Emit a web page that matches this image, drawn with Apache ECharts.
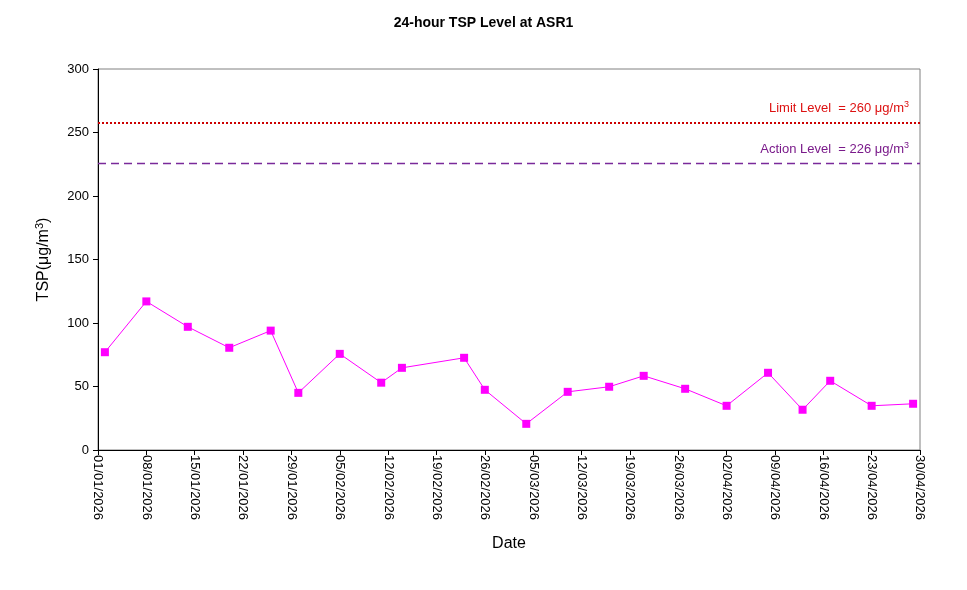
<!DOCTYPE html>
<html>
<head>
<meta charset="utf-8">
<script src="https://cdn.jsdelivr.net/npm/echarts@6/dist/echarts.min.js"></script>
<style>html,body{margin:0;padding:0;background:#fff;}#c{width:967px;height:590px;}</style>
</head>
<body>
<div id="c"></div>
<script>
const startDate = '2026-01-01';
const endDate = '2026-04-30';
const dates = ['2026-01-02','2026-01-08','2026-01-14','2026-01-20','2026-01-26','2026-01-30','2026-02-05','2026-02-11','2026-02-14','2026-02-23','2026-02-26','2026-03-04','2026-03-10','2026-03-16','2026-03-21','2026-03-27','2026-04-02','2026-04-08','2026-04-13','2026-04-17','2026-04-23','2026-04-29'];
const tsp = [77,117,97,80.5,94,45,75.7,53,64.7,72.6,47.4,20.6,45.8,49.8,58.4,48.2,34.8,60.8,31.7,54.5,34.8,36.4];
const limitLine = 258;
const actionLine = 226;
const limitText = 'Limit Level  = 260 \u03bcg/m{sup|3}';
const actionText = 'Action Level  = 226 \u03bcg/m{sup|3}';
const yTicks = [0,50,100,150,200,250,300];

const DAY = 86400000;
const t0 = Date.UTC(2026,0,1);
function dayOf(s){const p=s.split('-');return Math.round((Date.UTC(+p[0],+p[1]-1,+p[2])-t0)/DAY);}
function fmt(d){const dt=new Date(t0+d*DAY);const dd=String(dt.getUTCDate()).padStart(2,'0');const mm=String(dt.getUTCMonth()+1).padStart(2,'0');return dd+'/'+mm+'/'+dt.getUTCFullYear();}
const data = dates.map((d,i)=>[dayOf(d), tsp[i]]);
const font = 'Liberation Sans, Arial, sans-serif';

const chart = echarts.init(document.getElementById('c'));
chart.setOption({
  backgroundColor:'#fff',
  animation:false,
  title:{text:'24-hour TSP Level at ASR1', left:'center', top:11, textStyle:{fontFamily:font, fontSize:14, fontWeight:'bold', color:'#000'}},
  grid:{left:98, right:47, top:69, bottom:140, show:true, borderColor:'#808080', borderWidth:1, backgroundColor:'transparent'},
  xAxis:{type:'value', min:dayOf(startDate), max:dayOf(endDate), interval:7,
    name:'Date', nameLocation:'middle', nameGap:86, nameTextStyle:{fontFamily:font, fontSize:16, color:'#000'},
    axisLine:{lineStyle:{color:'#000', width:1}}, axisTick:{show:true, length:5, lineStyle:{color:'#000'}},
    splitLine:{show:false},
    axisLabel:{rotate:-90, formatter:v=>fmt(v), fontFamily:font, fontSize:13, color:'#000', margin:5}},
  yAxis:{type:'value', min:yTicks[0], max:yTicks[yTicks.length-1], interval:50,
    name:'TSP(\u03bcg/m{sup|3})', nameLocation:'middle', nameGap:45, nameRotate:90,
    nameTextStyle:{fontFamily:font, fontSize:16, color:'#000', rich:{sup:{fontFamily:font, fontSize:11, verticalAlign:'top', padding:[0,0,8,0], color:'#000'}}},
    axisLine:{show:true, lineStyle:{color:'#000', width:1}}, axisTick:{show:true, length:5, lineStyle:{color:'#000'}},
    splitLine:{show:false},
    axisLabel:{fontFamily:font, fontSize:13, color:'#000', margin:9}},
  series:[{type:'line', data:data, symbol:'rect', symbolSize:8,
    itemStyle:{color:'#ff00ff'}, lineStyle:{color:'#ff00ff', width:1},
    markLine:{silent:true, symbol:['none','none'],
      data:[
        {yAxis:limitLine, lineStyle:{color:'#cc0000', type:[2,2], width:2},
          label:{formatter:limitText, position:'insideEndTop', distance:[11,6], color:'#dd1111', fontFamily:font, fontSize:13,
            rich:{sup:{fontFamily:font, fontSize:9, verticalAlign:'top', padding:[0,0,7,0], color:'#dd1111'}}}},
        {yAxis:actionLine, lineStyle:{color:'#7a2a9a', type:[8,5], width:1.4, opacity:1},
          label:{formatter:actionText, position:'insideEndTop', distance:[11,6], color:'#7a1a8a', fontFamily:font, fontSize:13,
            rich:{sup:{fontFamily:font, fontSize:9, verticalAlign:'top', padding:[0,0,7,0], color:'#7a1a8a'}}}}
      ]}
  }]
});
</script>
</body>
</html>
